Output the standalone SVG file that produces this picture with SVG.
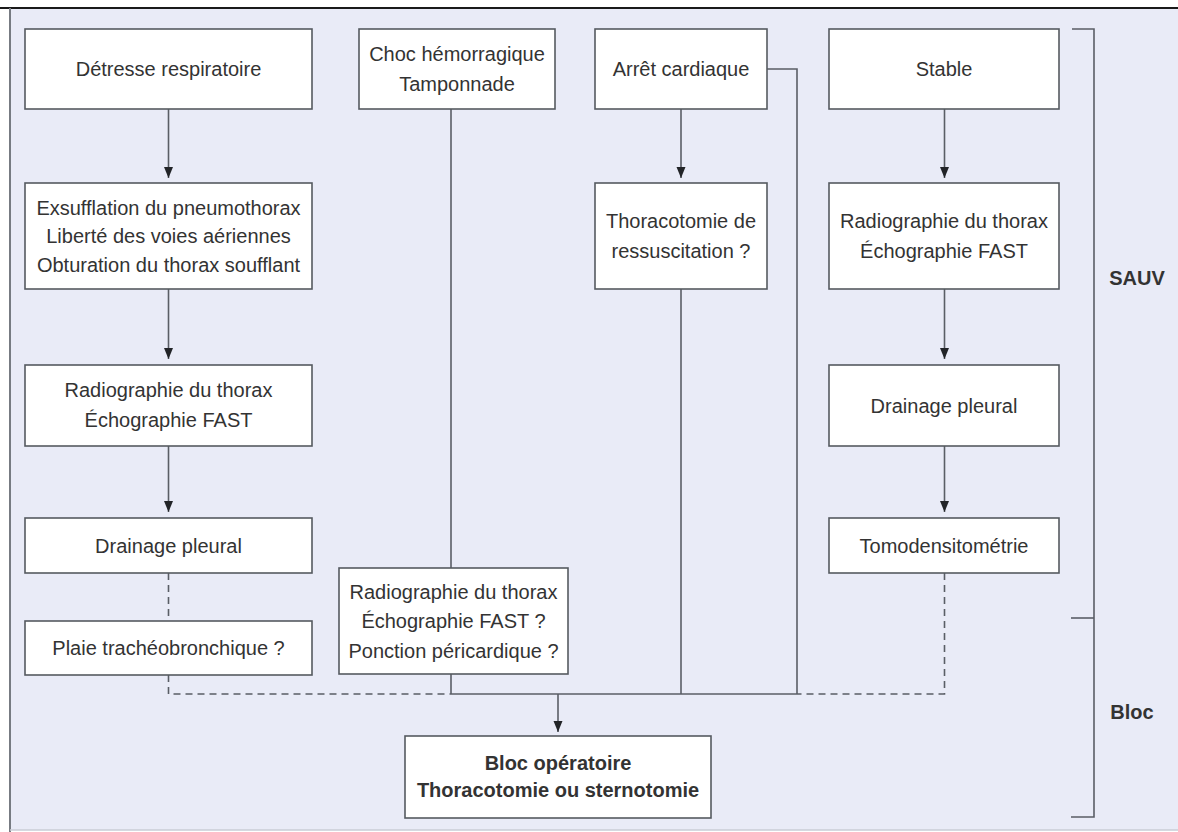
<svg xmlns="http://www.w3.org/2000/svg" width="1178" height="832" viewBox="0 0 1178 832">
<defs>
<style>
.box{fill:#ffffff;stroke:#555a60;stroke-width:1.6}
.t{font-family:"Liberation Sans",Arial,sans-serif;font-size:20px;fill:#333333;text-anchor:middle}
.b{font-weight:bold}
.c{fill:none;stroke:#5a5e66;stroke-width:1.6}
.d{fill:none;stroke:#5a5e66;stroke-width:1.6;stroke-dasharray:7,5}
.a{marker-end:url(#arr)}
</style>
<marker id="arr" markerUnits="userSpaceOnUse" markerWidth="12" markerHeight="10" refX="11" refY="4.5" orient="auto">
<path d="M0,0 L11,4.5 L0,9 z" fill="#222428"/>
</marker>
</defs>
<rect x="0" y="0" width="1178" height="832" fill="#ffffff"/>
<rect x="10" y="8" width="1168" height="822" fill="#e9ebf7"/>
<line x1="0" y1="8" x2="1178" y2="8" stroke="#1a1a1a" stroke-width="2"/>
<line x1="10" y1="8" x2="10" y2="832" stroke="#777b82" stroke-width="2"/>
<line x1="10" y1="830" x2="1178" y2="830" stroke="#c9ccd6" stroke-width="1.5"/>

<g id="connectors">
<line class="c a" x1="168.5" y1="109" x2="168.5" y2="178"/>
<line class="c a" x1="168.5" y1="289" x2="168.5" y2="359"/>
<line class="c a" x1="168.5" y1="446" x2="168.5" y2="512"/>
<line class="d" x1="168.5" y1="573" x2="168.5" y2="621"/>
<polyline class="d" points="168.5,675 168.5,694 451,694"/>
<line class="c" x1="451" y1="109" x2="451" y2="568"/>
<line class="c" x1="451" y1="674" x2="451" y2="694"/>
<line class="c" x1="451" y1="694" x2="797" y2="694"/>
<line class="c a" x1="681" y1="109" x2="681" y2="178"/>
<line class="c" x1="681" y1="289" x2="681" y2="694"/>
<polyline class="c" points="767,69 797,69 797,694"/>
<line class="c a" x1="944.5" y1="109" x2="944.5" y2="178"/>
<line class="c a" x1="944.5" y1="289" x2="944.5" y2="359"/>
<line class="c a" x1="944.5" y1="446" x2="944.5" y2="512"/>
<polyline class="d" points="944.5,573 944.5,694 797,694"/>
<line class="c a" x1="558" y1="694" x2="558" y2="732"/>
</g>

<g id="bracket">
<polyline class="c" points="1072,29 1094,29 1094,817 1071,817"/>
<line class="c" x1="1071" y1="618" x2="1094" y2="618"/>
<text class="t b" x="1137" y="285">SAUV</text>
<text class="t b" x="1132" y="719">Bloc</text>
</g>

<g id="n1"><rect class="box" x="25" y="29" width="287" height="80"/><text class="t" x="168.5" y="76">Détresse respiratoire</text></g>
<g id="n2"><rect class="box" x="359" y="29" width="196" height="80"/><text class="t" x="457" y="61">Choc hémorragique</text><text class="t" x="457" y="91">Tamponnade</text></g>
<g id="n3"><rect class="box" x="595" y="29" width="172" height="80"/><text class="t" x="681" y="76">Arrêt cardiaque</text></g>
<g id="n4"><rect class="box" x="829" y="29" width="230" height="80"/><text class="t" x="944" y="76">Stable</text></g>
<g id="n5"><rect class="box" x="25" y="183" width="287" height="106"/><text class="t" x="168.5" y="214.5">Exsufflation du pneumothorax</text><text class="t" x="168.5" y="243">Liberté des voies aériennes</text><text class="t" x="168.5" y="271.5">Obturation du thorax soufflant</text></g>
<g id="n6"><rect class="box" x="595" y="183" width="172" height="106"/><text class="t" x="681" y="228">Thoracotomie de</text><text class="t" x="681" y="258">ressuscitation ?</text></g>
<g id="n7"><rect class="box" x="829" y="183" width="230" height="106"/><text class="t" x="944" y="228">Radiographie du thorax</text><text class="t" x="944" y="258">Échographie FAST</text></g>
<g id="n8"><rect class="box" x="25" y="365" width="287" height="81"/><text class="t" x="168.5" y="397">Radiographie du thorax</text><text class="t" x="168.5" y="427">Échographie FAST</text></g>
<g id="n9"><rect class="box" x="25" y="518" width="287" height="55"/><text class="t" x="168.5" y="552.5">Drainage pleural</text></g>
<g id="n10"><rect class="box" x="829" y="365" width="230" height="81"/><text class="t" x="944" y="412.5">Drainage pleural</text></g>
<g id="n11"><rect class="box" x="829" y="518" width="230" height="55"/><text class="t" x="944" y="552.5">Tomodensitométrie</text></g>
<g id="n12"><rect class="box" x="25" y="621" width="287" height="54"/><text class="t" x="168.5" y="655">Plaie trachéobronchique ?</text></g>
<g id="n13"><rect class="box" x="339" y="568" width="229" height="106"/><text class="t" x="453.5" y="599">Radiographie du thorax</text><text class="t" x="453.5" y="628">Échographie FAST ?</text><text class="t" x="453.5" y="657.5">Ponction péricardique ?</text></g>
<g id="n14"><rect class="box" x="405" y="736" width="306" height="82"/><text class="t b" x="558" y="770">Bloc opératoire</text><text class="t b" x="558" y="797">Thoracotomie ou sternotomie</text></g>
</svg>
